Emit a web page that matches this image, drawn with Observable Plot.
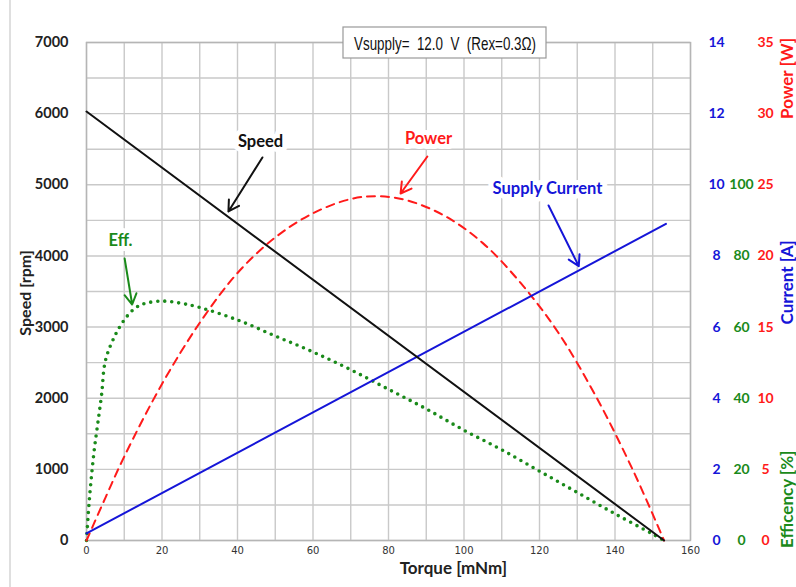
<!DOCTYPE html>
<html><head><meta charset="utf-8">
<script src="https://cdn.jsdelivr.net/npm/d3@7"></script>
<script src="https://cdn.jsdelivr.net/npm/@observablehq/plot@0.6"></script>
<style>
body{margin:0;background:#fff}
#chart{position:relative;width:796px;height:587px}
</style>
</head><body><div id="chart"></div>
<script>
// ---- data ----
const speedTorque = [0, 153];
const speedRpm = [6030, 0];

const currentTorque = [0, 153.5];
const currentA = [0.2, 8.9];

const powerTorque = [0, 5, 10, 20, 30, 40, 50, 60, 70, 77, 85, 95, 105, 115, 125, 135, 145, 153];
const powerW = [0, 3.0, 5.9, 11.0, 15.3, 18.8, 21.3, 23.0, 24.0, 24.2, 23.9, 22.8, 20.9, 18.1, 14.6, 10.1, 4.8, 0];

const effTorque = [0, 0.5, 1, 2, 3, 4, 5, 7.5, 10, 12.5, 15, 20, 25, 30, 40, 50, 60, 70, 80, 90, 100, 110, 120, 130, 140, 150, 153];
const effPct = [0, 8, 14.5, 25, 33, 41, 50.5, 57.5, 62, 65, 66.5, 67.3, 66.7, 65.5, 62, 57.5, 53, 48, 42.5, 37, 31, 25.5, 19.5, 13.5, 7.5, 1.8, 0];

const torqueTicks = [0, 20, 40, 60, 80, 100, 120, 140, 160];
const speedTicks = [0, 1000, 2000, 3000, 4000, 5000, 6000, 7000];
const currentTicks = [0, 2, 4, 6, 8, 10, 12, 14];
const effTicks = [0, 20, 40, 60, 80, 100];
const powerTicks = [0, 5, 10, 15, 20, 25, 30, 35];

// secondary axes share the speed axis: 14 A, 140 %, 35 W <-> 7000 rpm
const CUR = 500, EFF = 50, POW = 200;

const annotations = [
  {label: "Speed", tx: 46.1, ty: 5609, x1: 46.6, y1: 5384, x2: 37.6, y2: 4625, color: "#111"},
  {label: "Power", tx: 90.6, ty: 5651, x1: 90.3, y1: 5398, x2: 83.2, y2: 4878, color: "#ff1a1a"},
  {label: "Supply Current", tx: 122.1, ty: 4948, x1: 122.4, y1: 4709, x2: 130.4, y2: 3856, color: "#1515d8"},
  {label: "Eff.", tx: 9.0, ty: 4217, x1: 10.1, y1: 3964, x2: 12.1, y2: 3317, color: "#1a8a1a"}
];

const speedData = speedTorque.map((t, i) => ({t, v: speedRpm[i]}));
const currentData = currentTorque.map((t, i) => ({t, v: currentA[i] * CUR}));
const powerData = powerTorque.map((t, i) => ({t, v: powerW[i] * POW}));
const effData = effTorque.map((t, i) => ({t, v: effPct[i] * EFF}));

const BLUE = "#1515d8", RED = "#ff1a1a", GREEN = "#1a8a1a";
const F = "Lato, 'Open Sans', sans-serif";

const plot = Plot.plot({
  width: 796, height: 587,
  marginLeft: 86, marginRight: 106, marginTop: 42, marginBottom: 47,
  x: {domain: [0, 160]},
  y: {domain: [0, 7000]},
  style: {fontFamily: F, background: "white"},
  marks: [
    Plot.gridX(d3.range(0, 161, 10), {stroke: "#c9c9c9", strokeOpacity: 1, strokeWidth: 1.4}),
    Plot.gridY(d3.range(0, 7001, 500), {stroke: "#c9c9c9", strokeOpacity: 1, strokeWidth: 1.4}),
    Plot.frame({stroke: "#b5b5b5", strokeWidth: 1.4}),
    Plot.axisX(torqueTicks, {tickSize: 0, tickPadding: 6, fontSize: 10, fill: "#333", label: null, tickFormat: d => String(d), fontFamily: "'DejaVu Sans', sans-serif"}),
    Plot.axisY(speedTicks, {anchor: "left", tickSize: 0, tickPadding: 18, fontSize: 14.5, fontWeight: "bold", fill: "#222", label: null, tickFormat: d => String(d)}),
    Plot.text(currentTicks, {frameAnchor: "right", y: d => d * CUR, text: d => String(d), dx: 26, fill: BLUE, fontSize: 14, fontWeight: "bold", textAnchor: "middle"}),
    Plot.text(effTicks, {frameAnchor: "right", y: d => d * EFF, text: d => String(d), dx: 51, fill: GREEN, fontSize: 14, fontWeight: "bold", textAnchor: "middle"}),
    Plot.text(powerTicks, {frameAnchor: "right", y: d => d * POW, text: d => String(d), dx: 75, fill: RED, fontSize: 14, fontWeight: "bold", textAnchor: "middle"}),
    // axis titles
    Plot.text(["Speed [rpm]"], {frameAnchor: "left", y: 3480, dx: -61, rotate: -90, textAnchor: "middle", fontSize: 16, fontWeight: "bold", fill: "#222"}),
    Plot.text(["Torque [mNm]"], {frameAnchor: "bottom", x: 97.2, dy: 33, textAnchor: "middle", fontSize: 17, fontWeight: "bold", fill: "#222"}),
    Plot.text(["Power [W]"], {frameAnchor: "right", y: 6494, dx: 97, rotate: -90, textAnchor: "middle", fontSize: 17, fontWeight: "bold", fill: RED}),
    Plot.text(["Current [A]"], {frameAnchor: "right", y: 3627, dx: 97, rotate: -90, textAnchor: "middle", fontSize: 17, fontWeight: "bold", fill: BLUE}),
    Plot.text(["Efficency [%]"], {frameAnchor: "right", y: 580, dx: 97, rotate: -90, textAnchor: "middle", fontSize: 17, fontWeight: "bold", fill: GREEN}),
    // series
    Plot.line(effData, {x: "t", y: "v", stroke: GREEN, strokeWidth: 3.6, strokeDasharray: "0,7", strokeLinecap: "round", curve: "catmull-rom"}),
    Plot.line(powerData, {x: "t", y: "v", stroke: RED, strokeWidth: 2, strokeDasharray: "8,6", curve: "catmull-rom"}),
    Plot.line(currentData, {x: "t", y: "v", stroke: BLUE, strokeWidth: 2}),
    Plot.line(speedData, {x: "t", y: "v", stroke: "#111", strokeWidth: 2}),
    // annotations
    Plot.arrow(annotations, {x1: "x1", y1: "y1", x2: "x2", y2: "y2", stroke: "color", strokeWidth: 2, headLength: 9}),
    Plot.text(annotations, {x: "tx", y: "ty", text: "label", fill: "color", fontSize: 16.5, fontWeight: "bold", stroke: "white", strokeWidth: 10, paintOrder: "stroke"})
  ]
});

document.getElementById("chart").appendChild(plot);

// title box
const svg = d3.select(plot);
const g = svg.append("g");
g.append("rect").attr("x", 343).attr("y", 27).attr("width", 203).attr("height", 31)
  .attr("fill", "white").attr("stroke", "#999").attr("stroke-width", 1.2);
g.append("text").attr("x", 354).attr("y", 49.5)
  .attr("text-anchor", "start")
  .attr("font-family", "'Liberation Sans', Arial, sans-serif")
  .attr("font-size", 19).attr("fill", "#111")
  .attr("textLength", 182).attr("lengthAdjust", "spacingAndGlyphs")
  .style("white-space", "pre")
  .text("Vsupply=  12.0  V  (Rex=0.3\u03A9)");
// outer chart border
svg.append("line").attr("x1", 10).attr("x2", 10).attr("y1", 0).attr("y2", 587).attr("stroke", "#d4d4d4").attr("stroke-width", 1.5);
</script>
</body></html>
